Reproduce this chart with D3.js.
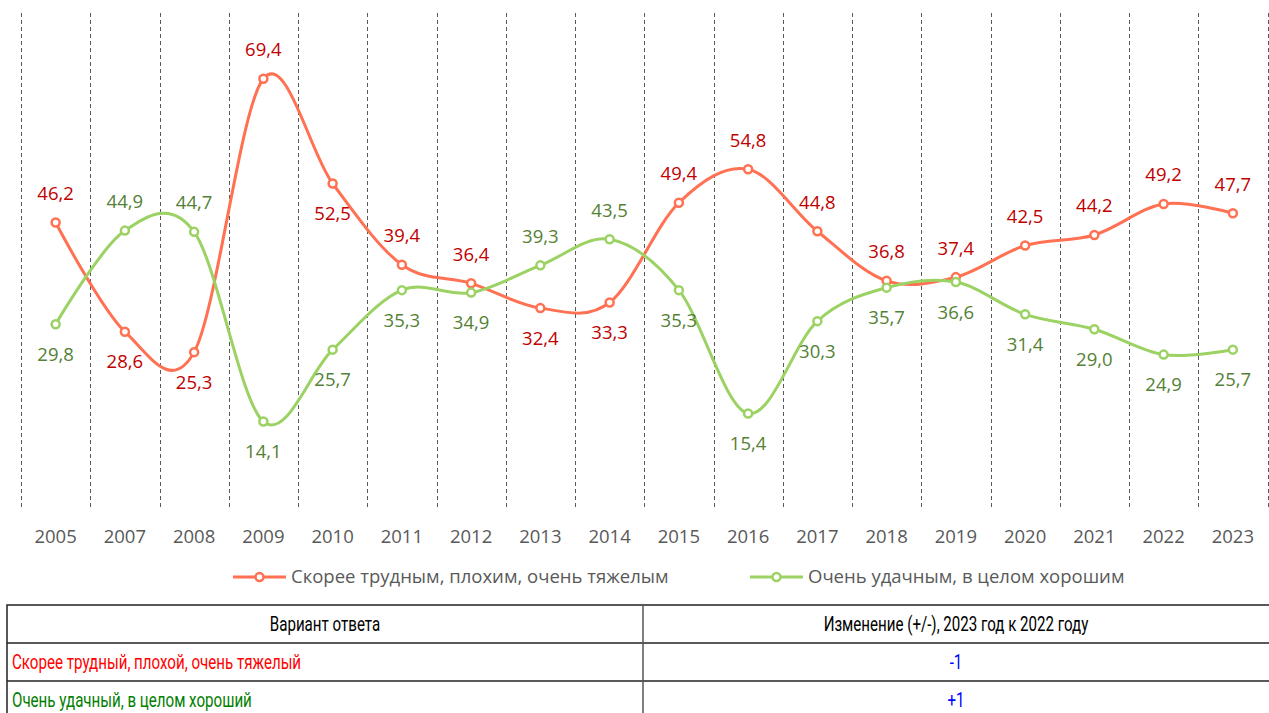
<!DOCTYPE html>
<html>
<head>
<meta charset="utf-8">
<script src="https://cdn.jsdelivr.net/npm/d3@7"></script>
<style>
  body { margin: 0; background: #fff; }
  svg text { font-family: "Open Sans", sans-serif; }
  .tbl text { font-family: "Roboto", sans-serif; font-weight: 400; }
</style>
</head>
<body>
<div id="chart"></div>
<script>
// data
var years = ["2005", "2007", "2008", "2009", "2010", "2011", "2012", "2013", "2014",
             "2015", "2016", "2017", "2018", "2019", "2020", "2021", "2022", "2023"];
var hard = [46.2, 28.6, 25.3, 69.4, 52.5, 39.4, 36.4, 32.4, 33.3,
            49.4, 54.8, 44.8, 36.8, 37.4, 42.5, 44.2, 49.2, 47.7];
var good = [29.8, 44.9, 44.7, 14.1, 25.7, 35.3, 34.9, 39.3, 43.5,
            35.3, 15.4, 30.3, 35.7, 36.6, 31.4, 29.0, 24.9, 25.7];
var seriesNames = ["Скорее трудным, плохим, очень тяжелым", "Очень удачным, в целом хорошим"];
var tableHead = ["Вариант ответа", "Изменение (+/-), 2023 год к 2022 году"];
var tableRows = [["Скорее трудный, плохой, очень тяжелый", "-1"],
                 ["Очень удачный, в целом хороший", "+1"]];

// which labels sit under / over the point (by year)
var hardBelow = ["2007", "2008", "2010", "2013", "2014"];
var goodAbove = ["2007", "2008", "2013", "2014"];

var W = 1269, H = 713;
var svg = d3.select("#chart").append("svg")
    .attr("width", W)
    .attr("height", H);

var x = d3.scaleBand()
    .domain(years)
    .range([21, 1267.5]);

var y = d3.scaleLinear()
    .domain([0, 80])
    .range([509, 13]);

function cx(i) { return x(years[i]) + x.bandwidth() / 2; }

// dashed grid between categories
svg.append("g")
    .selectAll("line")
    .data(years.concat(["end"]))
    .enter()
    .append("line")
    .attr("x1", function(d, i) { return Math.round(21 + i * x.step()) + 0.5; })
    .attr("x2", function(d, i) { return Math.round(21 + i * x.step()) + 0.5; })
    .attr("y1", 13)
    .attr("y2", 509)
    .attr("stroke", "#595959")
    .attr("stroke-width", 1)
    .attr("stroke-dasharray", "4,3");

// x axis labels
var xAxis = d3.axisBottom(x).tickSize(0).tickPadding(21);
var xg = svg.append("g")
    .attr("transform", "translate(0,509)")
    .call(xAxis);
xg.select(".domain").remove();
xg.selectAll("text")
    .attr("fill", "#595959")
    .style("font-size", "18.5px")
    .style("font-family", "Open Sans, sans-serif");

var line = d3.line()
    .x(function(d, i) { return cx(i); })
    .y(function(d) { return y(d); })
    .curve(d3.curveCardinal.tension(0));

var series = [
    { values: hard, stroke: "#FF7152", label: "#C00000", below: function(yr) { return hardBelow.indexOf(yr) >= 0; } },
    { values: good, stroke: "#9BD263", label: "#538135", below: function(yr) { return goodAbove.indexOf(yr) < 0; } }
];

series.forEach(function(s) {
    svg.append("path")
        .datum(s.values)
        .attr("d", line)
        .attr("fill", "none")
        .attr("stroke", s.stroke)
        .attr("stroke-width", 3);

    svg.append("g")
        .selectAll("circle")
        .data(s.values)
        .enter()
        .append("circle")
        .attr("cx", function(d, i) { return cx(i); })
        .attr("cy", function(d) { return y(d); })
        .attr("r", 4)
        .attr("fill", "#fff")
        .attr("stroke", s.stroke)
        .attr("stroke-width", 2.5);

    svg.append("g")
        .selectAll("text")
        .data(s.values)
        .enter()
        .append("text")
        .attr("x", function(d, i) { return cx(i); })
        .attr("y", function(d, i) { return y(d) + (s.below(years[i]) ? 30 : -29); })
        .attr("dy", "0.35em")
        .attr("text-anchor", "middle")
        .attr("fill", s.label)
        .style("font-size", "18.5px")
        .text(function(d) { return d.toFixed(1).replace(".", ","); });
});

// legend
var legend = svg.append("g").attr("transform", "translate(0,577)");
var legendX = [233, 750];
series.forEach(function(s, i) {
    var g = legend.append("g").attr("transform", "translate(" + legendX[i] + ",0)");
    g.append("line")
        .attr("x1", 0).attr("x2", 53)
        .attr("stroke", s.stroke).attr("stroke-width", 3);
    g.append("circle")
        .attr("cx", 26.5).attr("r", 4)
        .attr("fill", "#fff").attr("stroke", s.stroke).attr("stroke-width", 2.5);
    g.append("text")
        .attr("x", 58)
        .attr("dy", "0.35em")
        .attr("fill", "#595959")
        .style("font-size", "18.5px")
        .text(seriesNames[i]);
});

// table under the chart (narrow text: squeeze horizontally)
var tbl = svg.append("g").attr("class", "tbl");
var colX = [7, 643, 1290];
var rowY = [605, 643, 681, 719];
var squeeze = 0.72;

tbl.append("rect")
    .attr("x", colX[0]).attr("y", rowY[0])
    .attr("width", colX[2] - colX[0]).attr("height", rowY[3] - rowY[0])
    .attr("fill", "none").attr("stroke", "#222").attr("stroke-width", 1.5);
rowY.slice(1, 3).forEach(function(yy) {
    tbl.append("line")
        .attr("x1", colX[0]).attr("x2", colX[2])
        .attr("y1", yy).attr("y2", yy)
        .attr("stroke", "#222").attr("stroke-width", 1.5);
});
tbl.append("line")
    .attr("x1", colX[1]).attr("x2", colX[1])
    .attr("y1", rowY[0]).attr("y2", rowY[3])
    .attr("stroke", "#555").attr("stroke-width", 1.5);

function cell(tx, ty, txt, anchor, color) {
    tbl.append("text")
        .attr("transform", "translate(" + tx + "," + ty + ") scale(" + squeeze + ",1)")
        .attr("dy", "0.35em")
        .attr("text-anchor", anchor)
        .attr("fill", color)
        .style("font-size", "21px")
        .text(txt);
}

tableHead.forEach(function(t, i) {
    cell(i === 0 ? (colX[0] + colX[1]) / 2 : (colX[1] + 1269) / 2,
         (rowY[0] + rowY[1]) / 2, t, "middle", "#000");
});

var rowColors = ["#FF0000", "#008000"];
tableRows.forEach(function(r, i) {
    var cy = (rowY[i + 1] + rowY[i + 2]) / 2;
    cell(colX[0] + 5, cy, r[0], "start", rowColors[i]);
    cell((colX[1] + 1269) / 2, cy, r[1], "middle", "#0000FF");
});
</script>
</body>
</html>
